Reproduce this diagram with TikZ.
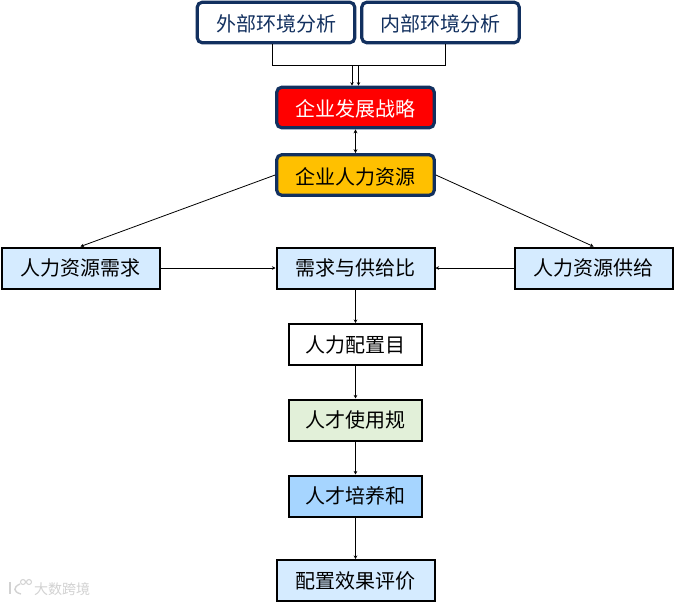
\documentclass[tikz,border=0pt]{standalone}
\usepackage{fontspec}
\setmainfont{Noto Sans CJK SC}
\usetikzlibrary{calc}
\usetikzlibrary{arrows.meta}

\definecolor{navy}{HTML}{12305F}
\definecolor{paleblue}{HTML}{D5EBFF}
\definecolor{midblue}{HTML}{A6D5FF}
\definecolor{palegreen}{HTML}{E2F0D9}
\definecolor{amber}{HTML}{FFC000}
\definecolor{markgrey}{HTML}{D2D2D2}

\tikzset{
  roundbox/.style={draw=navy, line width=3.2pt, rounded corners=5pt, minimum width=157.5pt, minimum height=40.5pt, inner sep=0pt, text height=18.2pt, text depth=0pt, font=\fontsize{20pt}{22pt}\selectfont},
  flatbox/.style={draw=black, line width=2pt, minimum width=158pt, minimum height=41pt, inner sep=0pt, font=\fontsize{20pt}{22pt}\selectfont},
  shortbox/.style={flatbox, minimum width=133.5pt},
  link/.style={draw=black, line width=0.8pt},
  tip/.style={link, arrows={-{Stealth[length=3.5pt,width=3.5pt]}}},
  twotip/.style={link, line width=1pt, arrows={{Stealth[length=4pt,width=4pt]}-{Stealth[length=4pt,width=4pt]}}}
}

\begin{document}
\begin{tikzpicture}[x=1pt, y=-1pt]
\path [use as bounding box, fill=white] (0, 0) rectangle (674, 602);

\node (ext) [roundbox, text=navy] at (276, 22.5) {外部环境分析};
\node (int) [roundbox, text=navy] at (440.5, 22.5) {内部环境分析};
\node (strategy) [roundbox, fill=red, text=white] at (355.5, 107.5) {企业发展战略};
\node (hr) [roundbox, fill=amber] at (355.5, 175) {企业人力资源};

\node (demand) [flatbox, fill=paleblue] at (80.5, 268) {人力资源需求};
\node (ratio) [flatbox, fill=paleblue] at (355.5, 268) {需求与供给比};
\node (supply) [flatbox, fill=paleblue] at (593.5, 268) {人力资源供给};

\node (target) [shortbox, fill=white] at (355.5, 344.5) {人力配置目};
\node (usage) [shortbox, fill=palegreen] at (355.5, 420) {人才使用规};
\node (train) [shortbox, fill=midblue] at (355.5, 496) {人才培养和};
\node (review) [flatbox, fill=paleblue] at (355.5, 580.5) {配置效果评价};

\node (mark) [text=markgrey, font=\fontsize{14pt}{15pt}\selectfont, inner sep=0pt] at (62, 589) {大数跨境};
\draw [markgrey, line width=1.4pt] (10, 582) -- (10, 594);
\draw [markgrey, line width=1.4pt] (20, 584) .. controls (13, 587) and (13, 592) .. (21, 594);
\draw [markgrey, line width=1pt] (23, 582) circle [radius=2.5];
\draw [markgrey, line width=1pt] (29, 582) circle [radius=2.5];

\coordinate (b1) at (272, 65);
\coordinate (b2) at (445, 65);
\coordinate (a1) at (352, 65);
\coordinate (a2) at (358.5, 65);

\draw [link] (ext.south -| b1) -- (b1) -- (b2) -- (int.south -| b2);
\draw [tip] (a1) -- (a1 |- strategy.north);
\draw [tip] (a2) -- (a2 |- strategy.north);
\draw [twotip] (strategy) -- (hr);

\draw [tip] (hr.west) -- (demand.north);
\draw [tip] (hr.east) -- (supply.north);
\draw [tip] (demand) -- (ratio);
\draw [tip] (supply) -- (ratio);

\draw [tip] (ratio) -- (target);
\draw [tip] (target) -- (usage);
\draw [tip] (usage) -- (train);
\draw [tip] (train) -- (review);

\end{tikzpicture}
\end{document}
